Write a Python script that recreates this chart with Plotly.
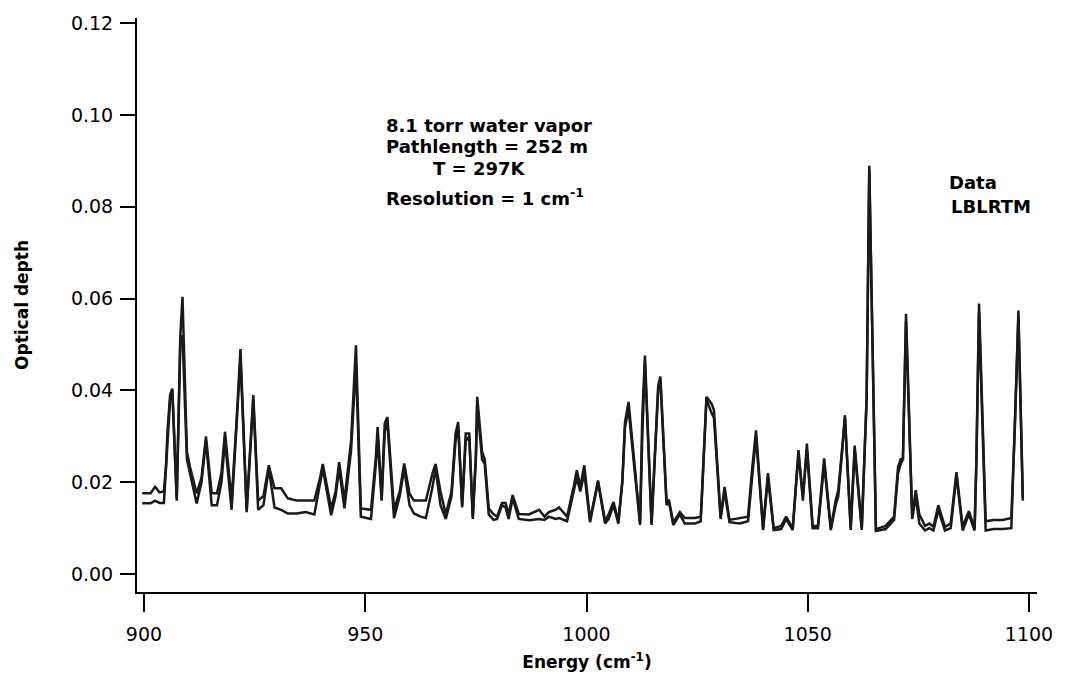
import plotly.graph_objects as go

# Wavenumber grid (cm^-1) and the two optical-depth traces
energy = [899.6, 901.5, 902.5, 903.5, 904.5, 905.0, 905.3, 905.9, 906.4, 907.4,
          908.2, 908.7, 909.7, 910.4, 911.9, 913.0, 914.0, 915.3, 916.5, 917.5,
          918.3, 919.8, 920.9, 921.8, 923.2, 924.7, 925.8, 927.0, 928.2, 929.5,
          931.0, 932.5, 934.5, 936.5, 938.5, 939.8, 940.4, 942.3, 943.3, 944.1,
          945.3, 946.8, 947.9, 949.0, 951.3, 952.4, 952.8, 953.7, 954.4, 955.0,
          956.5, 957.8, 958.8, 960.0, 961.0, 962.5, 963.7, 965.2, 965.9, 967.0,
          968.2, 969.5, 970.4, 971.0, 971.9, 972.7, 973.5, 974.3, 975.0, 975.3,
          976.4, 977.0, 977.9, 979.0, 979.8, 980.9, 981.7, 982.4, 983.3, 984.7,
          987.0, 989.3, 990.5, 991.5, 993.0, 993.8, 995.6, 997.1, 997.8, 998.6,
          999.5, 1000.8, 1002.6, 1004.2, 1005.0, 1006.1, 1007.2, 1008.1, 1008.7, 1009.5,
          1012.1, 1012.6, 1013.2, 1014.7, 1016.2, 1016.7, 1018.1, 1018.6, 1019.6, 1021.1,
          1022.2, 1024.5, 1025.8, 1026.0, 1026.6, 1027.1, 1028.3, 1028.8, 1030.3, 1031.2,
          1032.3, 1034.6, 1036.5, 1037.4, 1038.3, 1039.9, 1041.0, 1042.3, 1044.0, 1045.1,
          1046.6, 1047.4, 1047.9, 1048.9, 1049.8, 1051.1, 1052.3, 1053.7, 1055.2, 1056.3,
          1056.9, 1057.7, 1058.4, 1059.7, 1060.6, 1062.2, 1062.8, 1063.3, 1063.9, 1065.4,
          1067.6, 1069.5, 1070.4, 1071.0, 1071.5, 1072.2, 1073.6, 1074.4, 1075.2, 1076.5,
          1077.5, 1078.4, 1079.5, 1081.0, 1082.3, 1083.6, 1085.0, 1086.4, 1087.7, 1088.1,
          1088.7, 1090.2, 1092.0, 1094.0, 1096.0, 1096.8, 1097.6, 1098.6]

data_od = [0.0176, 0.0176, 0.0190, 0.0178, 0.0180, 0.0240, 0.0310, 0.0390, 0.0404, 0.0165,
           0.0516, 0.0604, 0.0266, 0.0233, 0.0176, 0.0210, 0.0300, 0.0176, 0.0176, 0.0220,
           0.0310, 0.0160, 0.0330, 0.0490, 0.0140, 0.0390, 0.0160, 0.0170, 0.0237, 0.0187,
           0.0187, 0.0165, 0.0160, 0.0160, 0.0160, 0.0210, 0.0240, 0.0143, 0.0180, 0.0244,
           0.0160, 0.0290, 0.0498, 0.0143, 0.0140, 0.0255, 0.0320, 0.0168, 0.0328, 0.0342,
           0.0140, 0.0180, 0.0241, 0.0175, 0.0160, 0.0160, 0.0160, 0.0220, 0.0240, 0.0180,
           0.0130, 0.0180, 0.0306, 0.0331, 0.0150, 0.0306, 0.0306, 0.0125, 0.0260, 0.0386,
           0.0266, 0.0250, 0.0143, 0.0130, 0.0125, 0.0155, 0.0155, 0.0130, 0.0172, 0.0131,
           0.0130, 0.0140, 0.0125, 0.0135, 0.0140, 0.0145, 0.0125, 0.0190, 0.0226, 0.0190,
           0.0237, 0.0118, 0.0204, 0.0115, 0.0130, 0.0157, 0.0115, 0.0204, 0.0331, 0.0375,
           0.0112, 0.0342, 0.0476, 0.0112, 0.0411, 0.0430, 0.0155, 0.0162, 0.0112, 0.0135,
           0.0122, 0.0122, 0.0125, 0.0155, 0.0299, 0.0386, 0.0370, 0.0357, 0.0125, 0.0190,
           0.0118, 0.0122, 0.0125, 0.0226, 0.0313, 0.0100, 0.0220, 0.0100, 0.0105, 0.0125,
           0.0100, 0.0204, 0.0270, 0.0160, 0.0284, 0.0105, 0.0105, 0.0252, 0.0100, 0.0160,
           0.0183, 0.0266, 0.0346, 0.0100, 0.0280, 0.0100, 0.0280, 0.0386, 0.0889, 0.0098,
           0.0105, 0.0125, 0.0233, 0.0250, 0.0250, 0.0567, 0.0125, 0.0183, 0.0130, 0.0105,
           0.0110, 0.0103, 0.0150, 0.0103, 0.0110, 0.0222, 0.0103, 0.0137, 0.0100, 0.0248,
           0.0589, 0.0115, 0.0118, 0.0118, 0.0122, 0.0320, 0.0574, 0.0165]

lblrtm_od = [0.0154, 0.0154, 0.0160, 0.0155, 0.0155, 0.0235, 0.0310, 0.0380, 0.0400, 0.0160,
             0.0500, 0.0520, 0.0250, 0.0220, 0.0154, 0.0200, 0.0290, 0.0150, 0.0150, 0.0200,
             0.0290, 0.0140, 0.0320, 0.0470, 0.0135, 0.0380, 0.0140, 0.0150, 0.0230, 0.0145,
             0.0140, 0.0132, 0.0132, 0.0135, 0.0130, 0.0200, 0.0230, 0.0128, 0.0170, 0.0230,
             0.0143, 0.0270, 0.0460, 0.0125, 0.0120, 0.0240, 0.0300, 0.0160, 0.0310, 0.0330,
             0.0122, 0.0170, 0.0230, 0.0150, 0.0132, 0.0125, 0.0122, 0.0190, 0.0230, 0.0150,
             0.0120, 0.0170, 0.0290, 0.0320, 0.0145, 0.0290, 0.0300, 0.0120, 0.0250, 0.0370,
             0.0250, 0.0240, 0.0130, 0.0118, 0.0120, 0.0150, 0.0145, 0.0120, 0.0165, 0.0120,
             0.0117, 0.0120, 0.0118, 0.0125, 0.0120, 0.0122, 0.0115, 0.0180, 0.0210, 0.0180,
             0.0220, 0.0113, 0.0200, 0.0110, 0.0120, 0.0150, 0.0110, 0.0200, 0.0320, 0.0360,
             0.0107, 0.0300, 0.0460, 0.0107, 0.0400, 0.0420, 0.0150, 0.0160, 0.0107, 0.0130,
             0.0110, 0.0110, 0.0115, 0.0155, 0.0290, 0.0380, 0.0350, 0.0340, 0.0120, 0.0180,
             0.0113, 0.0110, 0.0115, 0.0210, 0.0300, 0.0096, 0.0210, 0.0096, 0.0098, 0.0120,
             0.0096, 0.0200, 0.0260, 0.0170, 0.0270, 0.0100, 0.0100, 0.0240, 0.0096, 0.0150,
             0.0170, 0.0260, 0.0340, 0.0096, 0.0270, 0.0096, 0.0270, 0.0380, 0.0880, 0.0094,
             0.0098, 0.0118, 0.0220, 0.0240, 0.0250, 0.0550, 0.0120, 0.0170, 0.0110, 0.0095,
             0.0100, 0.0095, 0.0140, 0.0095, 0.0100, 0.0215, 0.0095, 0.0130, 0.0095, 0.0240,
             0.0570, 0.0095, 0.0098, 0.0098, 0.0100, 0.0310, 0.0560, 0.0160]

x_ticks = [900, 950, 1000, 1050, 1100]
y_ticks = [0.00, 0.02, 0.04, 0.06, 0.08, 0.10, 0.12]
y_tick_text = ["0.00", "0.02", "0.04", "0.06", "0.08", "0.10", "0.12"]

FONT = "DejaVu Sans, Arial, sans-serif"
INK = "#1a1a1a"

fig = go.Figure()
fig.add_trace(go.Scatter(x=energy, y=data_od, mode="lines", name="Data",
                         line=dict(color=INK, width=2.5), showlegend=False))
fig.add_trace(go.Scatter(x=energy, y=lblrtm_od, mode="lines", name="LBLRTM",
                         line=dict(color=INK, width=2.5), showlegend=False))

notes = [
    ("<b>8.1 torr water vapor</b>", 385, 125),
    ("<b>Pathlength = 252 m</b>", 385, 146),
    ("<b>T = 297K</b>", 432, 168),
    ("<b>Resolution = 1 cm<sup>-1</sup></b>", 385, 196),
    ("<b>Data</b>", 950, 182),
    ("<b>LBLRTM</b>", 952, 206),
]
for txt, px, py in notes:
    fig.add_annotation(text=txt, xref="paper", yref="paper",
                       x=(px - 137) / 903, y=1 - (py - 17) / 575,
                       xanchor="left", yanchor="middle", showarrow=False,
                       font=dict(family=FONT, size=18, color="black"))

fig.update_layout(
    width=1065, height=685,
    margin=dict(l=137, r=25, t=17, b=93),
    paper_bgcolor="white", plot_bgcolor="white",
    font=dict(family=FONT, color="black"),
    xaxis=dict(range=[898.42, 1101.8], tickvals=x_ticks, ticks="outside",
               ticklen=18, tickwidth=2, tickcolor="black", showline=True,
               linecolor="black", linewidth=2, showgrid=False, zeroline=False,
               ticklabelstandoff=6,
               tickfont=dict(size=19, family=FONT),
               title=dict(text="<b>Energy (cm<sup>-1</sup>)</b>",
                          font=dict(size=17, family=FONT), standoff=12)),
    yaxis=dict(range=[-0.0039, 0.1211], tickvals=y_ticks, ticktext=y_tick_text,
               ticks="outside", ticklen=15, tickwidth=2, tickcolor="black",
               showline=True, linecolor="black", linewidth=2, showgrid=False,
               zeroline=False, ticklabelstandoff=3,
               tickfont=dict(size=19, family=FONT),
               title=dict(text="<b>Optical depth</b>",
                          font=dict(size=17, family=FONT), standoff=38)),
)

fig.write_html("out.html")
